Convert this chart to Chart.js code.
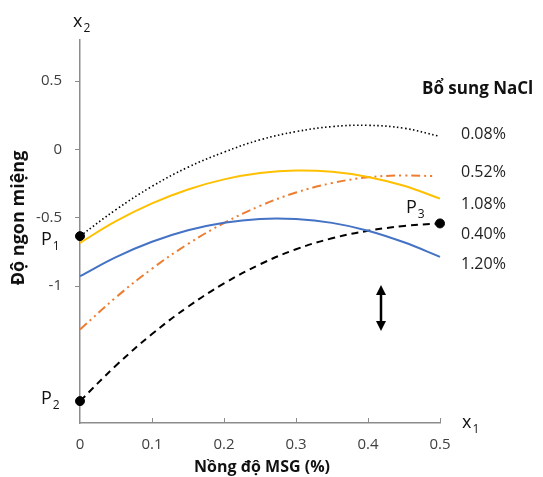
<!DOCTYPE html>
<html><head><meta charset="utf-8">
<script src="https://cdn.jsdelivr.net/npm/chart.js@4.4.1/dist/chart.umd.min.js"></script>
<style>html,body{margin:0;padding:0;background:#fff}canvas{display:block}</style>
</head><body>
<canvas id="c" width="543" height="477"></canvas>
<script>
// MSG concentration (x1)
const msg = [0, 0.05, 0.1, 0.15, 0.2, 0.25, 0.3, 0.35, 0.4, 0.45, 0.5];
const msgOrange = [0, 0.05, 0.1, 0.15, 0.2, 0.25, 0.3, 0.35, 0.4, 0.45, 0.49];
// Sweetness (x2) for each NaCl level
const nacl008 = [-0.634, -0.44, -0.27, -0.13, -0.02, 0.07, 0.13, 0.167, 0.176, 0.155, 0.095];
const nacl052 = [-1.317, -1.081, -0.872, -0.691, -0.538, -0.413, -0.315, -0.246, -0.204, -0.19, -0.195];
const nacl108 = [-0.683, -0.525, -0.395, -0.293, -0.219, -0.173, -0.154, -0.164, -0.201, -0.266, -0.36];
const nacl040 = [-1.84, -1.58, -1.35, -1.15, -0.98, -0.84, -0.73, -0.65, -0.595, -0.56, -0.541];
const nacl120 = [-0.927, -0.787, -0.675, -0.591, -0.536, -0.508, -0.509, -0.537, -0.594, -0.679, -0.785];
// Marked points
const pointNames = ['P1', 'P2', 'P3'];
const pointX = [0, 0, 0.5];
const pointY = [-0.634, -1.84, -0.541];
// Tick labels
const yTicks = [-1, -0.5, 0, 0.5];
const xTicks = [0, 0.1, 0.2, 0.3, 0.4, 0.5];
const legendTitle = 'Bổ sung NaCl';
const legendLabels = ['0.08%', '0.52%', '1.08%', '0.40%', '1.20%'];

const toXY = (xs, ys) => xs.map((x, i) => ({x, y: ys[i]}));
const FONT = '"Open Sans", sans-serif';

const annot = {
  id: 'annot',
  afterDatasetsDraw(chart) {
    const {ctx, scales: {x, y}} = chart;
    ctx.save();
    // inside x ticks
    ctx.strokeStyle = '#8c8c8c';
    ctx.lineWidth = 1;
    xTicks.slice(1).forEach(v => {
      const px = Math.round(x.getPixelForValue(v)) + 0.5;
      ctx.beginPath();
      ctx.moveTo(px, y.bottom);
      ctx.lineTo(px, y.bottom - 5);
      ctx.stroke();
    });
    // axis variable labels
    ctx.fillStyle = '#111';
    ctx.textAlign = 'left';
    ctx.textBaseline = 'alphabetic';
    const sub = (main, s, px, py, big, small) => {
      ctx.font = big + 'px ' + FONT;
      ctx.fillText(main, px, py);
      const w = ctx.measureText(main).width;
      ctx.font = small + 'px ' + FONT;
      ctx.fillText(s, px + w + 1, py + 5);
    };
    sub('x', '2', x.left - 7, 27, 18, 12);
    sub('x', '1', x.right + 22, 428, 18, 12);
    // P labels
    sub('P', '1', 41, 245, 18, 12);
    sub('P', '2', 41, 404, 18, 12);
    sub('P', '3', 406, 213, 18, 12);
    // legend
    ctx.font = 'bold 17px ' + FONT;
    ctx.fillStyle = '#111';
    ctx.textBaseline = 'middle';
    ctx.fillText(legendTitle, 422, 89);
    ctx.font = '16px ' + FONT;
    ctx.fillStyle = '#222';
    const rows = [134, 172, 204, 234, 264];
    legendLabels.forEach((t, i) => {
      ctx.fillText(t, 461, rows[i]);
    });
    // double arrow
    const ax = 381, at = 285, ab = 331;
    ctx.strokeStyle = '#000';
    ctx.fillStyle = '#000';
    ctx.lineWidth = 2.5;
    ctx.beginPath(); ctx.moveTo(ax, at + 8); ctx.lineTo(ax, ab - 8); ctx.stroke();
    ctx.beginPath(); ctx.moveTo(ax, at); ctx.lineTo(ax - 5, at + 10); ctx.lineTo(ax + 5, at + 10); ctx.closePath(); ctx.fill();
    ctx.beginPath(); ctx.moveTo(ax, ab); ctx.lineTo(ax - 5, ab - 10); ctx.lineTo(ax + 5, ab - 10); ctx.closePath(); ctx.fill();
    // axis titles
    ctx.fillStyle = '#111';
    ctx.textAlign = 'center';
    ctx.textBaseline = 'middle';
    ctx.font = 'bold 16px ' + FONT;
    ctx.fillText('Nồng độ MSG (%)', 262, 467);
    ctx.translate(19, 218);
    ctx.rotate(-Math.PI / 2);
    ctx.font = 'bold 18px ' + FONT;
    ctx.fillText('Độ ngon miệng', 0, 0);
    ctx.restore();
  }
};

const lineDs = (label, xs, ys, color, dash, width) => ({
  label, data: toXY(xs, ys), borderColor: color, borderDash: dash, borderWidth: width,
  showLine: true, pointRadius: 0, tension: 0.4, fill: false, clip: false
});

new Chart(document.getElementById('c'), {
  type: 'scatter',
  data: {
    datasets: [
      lineDs('0.08%', msg, nacl008, '#000000', [1.5, 2.5], 1.6),
      lineDs('1.08%', msg, nacl108, '#FFC000', [], 2),
      lineDs('1.20%', msg, nacl120, '#4472C4', [], 2),
      lineDs('0.52%', msgOrange, nacl052, '#ED7D31', [9, 4, 2, 4, 2, 4], 2),
      lineDs('0.40%', msg, nacl040, '#000000', [7, 5], 2),
      { label: 'P', data: toXY(pointX, pointY), pointRadius: 4.5, pointBackgroundColor: '#000',
        pointBorderColor: '#000', showLine: false, clip: false }
    ]
  },
  options: {
    responsive: false,
    animation: false,
    devicePixelRatio: 1,
    layout: { padding: { left: 0, right: 103, top: 40, bottom: 0 } },
    plugins: { legend: { display: false }, tooltip: { enabled: false } },
    scales: {
      x: {
        type: 'linear', min: 0, max: 0.5,
        afterBuildTicks: s => { s.ticks = xTicks.map(v => ({value: v})); },
        afterFit: s => { s.height = 54; },
        grid: { display: true, drawOnChartArea: false, drawTicks: false, color: 'rgba(0,0,0,0)' },
        border: { display: true, color: '#8c8c8c', width: 1.5 },
        ticks: { padding: 13, color: '#404040', font: { family: FONT, size: 15 },
                 maxRotation: 0, callback: v => String(v) }
      },
      y: {
        type: 'linear', min: -2, max: 0.8,
        afterBuildTicks: s => { s.ticks = yTicks.map(v => ({value: v})); },
        afterFit: s => { s.width = 80; },
        grid: { display: true, drawOnChartArea: false, drawTicks: true, tickLength: 5, color: '#8c8c8c' },
        border: { display: true, color: '#8c8c8c', width: 1.5 },
        ticks: { padding: 13, color: '#404040', font: { family: FONT, size: 15 }, callback: v => String(v) }
      }
    }
  },
  plugins: [annot]
});
</script>
</body></html>
